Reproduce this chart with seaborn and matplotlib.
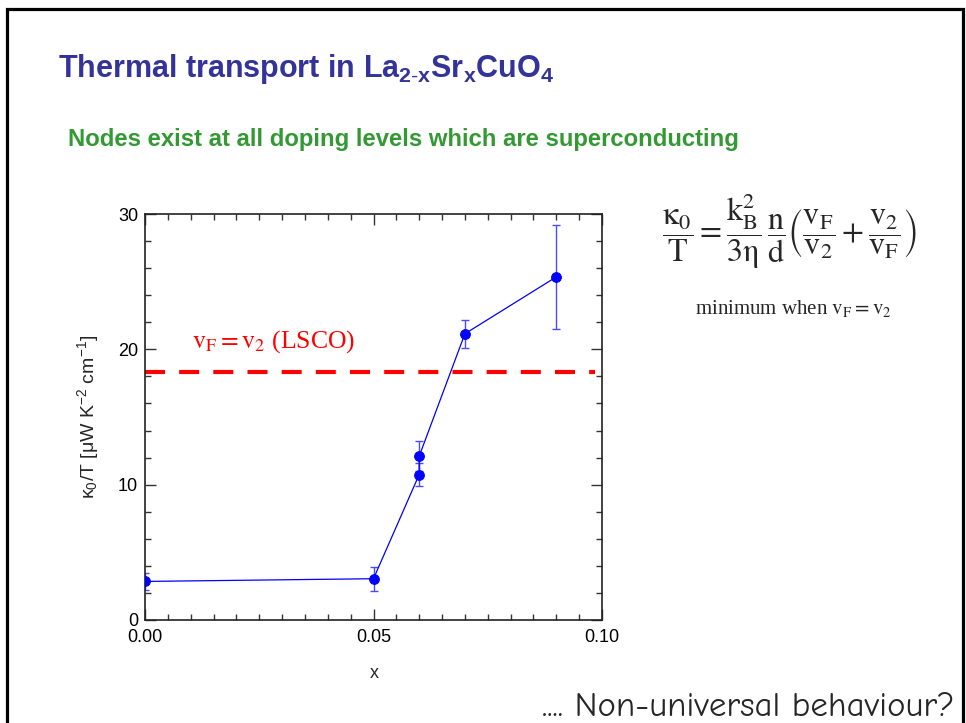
import matplotlib
matplotlib.use("Agg")
import matplotlib.pyplot as plt
from matplotlib.patches import Rectangle
from matplotlib.ticker import MultipleLocator
import seaborn as sns
import pandas as pd

# ---- data ----
doping_x = [0.0, 0.05, 0.06, 0.06, 0.07, 0.09]
kappa_T = [2.85, 3.05, 10.75, 12.1, 21.15, 25.35]
kappa_err = [0.65, 0.9, 0.85, 1.1, 1.05, 3.85]
lsco_level = 18.3
x_ticks = [0.0, 0.05, 0.10]
x_ticklabels = ["0.00", "0.05", "0.10"]
y_ticks = [0, 10, 20, 30]

sns.set_theme(style="white")
plt.rcParams["font.family"] = ["Liberation Sans", "DejaVu Sans"]
plt.rcParams["mathtext.fontset"] = "custom"
plt.rcParams["mathtext.rm"] = "Liberation Sans"
plt.rcParams["mathtext.it"] = "Liberation Sans:italic"
plt.rcParams["mathtext.bf"] = "Liberation Sans:bold"

W, H = 966, 723
fig = plt.figure(figsize=(W / 100, H / 100), dpi=100)
fig.patch.set_facecolor("white")

def fx(px):
    return px / W

def fy(py):
    return 1 - py / H

# slide frame
fig.patches.append(Rectangle((fx(6.5), fy(760)), fx(963) - fx(6.5), fy(9.5) - fy(760),
                             transform=fig.transFigure, fill=False, lw=2.3,
                             edgecolor="black", zorder=10))

ax = fig.add_axes([fx(145), fy(620), fx(602) - fx(145), fy(214) - fy(620)])
df = pd.DataFrame({"x": doping_x, "k": kappa_T, "err": kappa_err})

ax.errorbar(df["x"], df["k"], yerr=df["err"], fmt="none", ecolor="#4a4aff",
            elinewidth=1.0, capsize=3, capthick=1.0, zorder=2)
sns.lineplot(data=df, x="x", y="k", estimator=None, sort=False, ax=ax,
             color="#0000ff", lw=0.9, marker="o", markersize=7,
             markeredgecolor="#0000ff", markerfacecolor="#0000ff", zorder=3)
ax.hlines(lsco_level, 0.0, 0.0985, colors="#ff0000", lw=3, linestyles=(0, (4.8, 3.4)),
          zorder=1)

ax.set_xlim(0, 0.1)
ax.set_ylim(0, 30)
ax.set_xticks(x_ticks)
ax.set_xticklabels(x_ticklabels)
ax.set_yticks(y_ticks)
ax.xaxis.set_minor_locator(MultipleLocator(0.005))
ax.yaxis.set_minor_locator(MultipleLocator(2))
ax.tick_params(which="both", direction="in", top=True, right=True, bottom=True,
               left=True, colors="#333333", labelcolor="black", labelsize=13)
ax.tick_params(which="major", length=8, width=1.0)
ax.tick_params(which="minor", length=4.5, width=1.0)
ax.tick_params(axis="x", which="major", pad=6.5)
ax.tick_params(axis="y", which="major", pad=5)
for s in ax.spines.values():
    s.set_color("#222222")
    s.set_linewidth(1.2)
ax.set_xlabel("")
ax.set_ylabel("")
ax.grid(False)

fig.text(fx(374), fy(673), "x", ha="center", va="center", fontsize=13)
fig.text(fx(88), fy(417), r"$\mathrm{\kappa_0}$/T [$\mathrm{\mu}$W K$^{-2}$ cm$^{-1}$]",
         rotation=90, ha="center", va="center", fontsize=14)

ax.text(0.0103, 20.1, r"$\mathrm{v_F = v_2}$ (LSCO)", color="#ff0000",
        fontsize=18.5, family=["Liberation Serif", "DejaVu Serif"],
        math_fontfamily="stix", ha="left", va="baseline")

# title & subtitle
fig.text(fx(58), fy(77),
         r"Thermal transport in La$_{\mathbf{2\text{-}x}}$Sr$_{\mathbf{x}}$CuO$_{\mathbf{4}}$",
         color="#333399", fontsize=22, fontweight="bold",
         family=["Liberation Sans", "DejaVu Sans"], ha="left", va="baseline")
fig.text(fx(68), fy(146), "Nodes exist at all doping levels which are superconducting",
         color="#339933", fontsize=17.2, fontweight="bold",
         family=["Liberation Sans", "DejaVu Sans"], ha="left", va="baseline")

# formula
fig.text(fx(790), fy(231),
         r"$\dfrac{\mathrm{\kappa_0}}{\mathrm{T}}=\dfrac{\mathrm{k_B^2}}{\mathrm{3\eta}}\,\dfrac{\mathrm{n}}{\mathrm{d}}\left(\dfrac{\mathrm{v_F}}{\mathrm{v_2}}+\dfrac{\mathrm{v_2}}{\mathrm{v_F}}\right)$",
         fontsize=23, math_fontfamily="stix", ha="center", va="center")
fig.text(fx(793), fy(314), r"minimum when $\mathrm{v_F = v_2}$",
         fontsize=15, family=["Liberation Serif", "DejaVu Serif"], math_fontfamily="stix",
         ha="center", va="baseline")

fig.text(fx(955), fy(716), r".... Non-universal behaviour?", fontsize=25,
         family=["Comic Neue", "Lato", "DejaVu Sans"], ha="right", va="baseline")

fig.savefig("out.png", dpi=100)
